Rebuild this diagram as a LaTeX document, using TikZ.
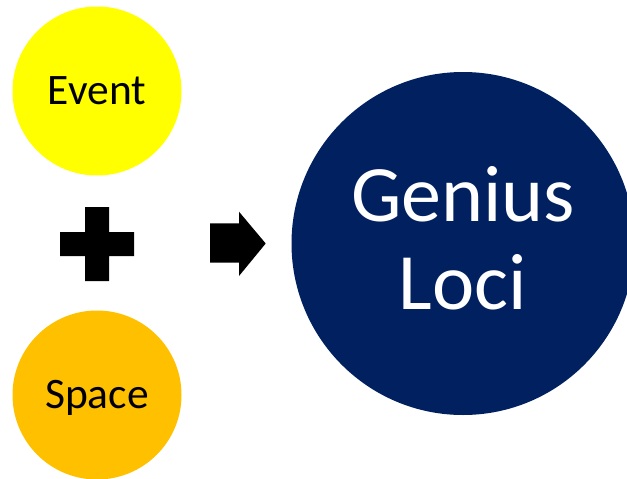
\documentclass[tikz,border=0pt]{standalone}
\usepackage{fontspec}
\setmainfont{Carlito}
\definecolor{evyellow}{HTML}{FFFF00}
\definecolor{sporange}{HTML}{FFC000}
\definecolor{glnavy}{HTML}{002060}
\begin{document}
\begin{tikzpicture}[x=1pt,y=-1pt,
  bubble/.style={circle,inner sep=0pt,draw=none},
  small/.style={bubble,minimum size=169pt,text=black,
    font=\fontsize{43.5}{52}\selectfont,text height=27.5pt,text depth=0pt},
  symbol/.style={fill=black}]
\useasboundingbox (0,0) rectangle (627,479);
\begin{scope}
\clip (0,0) rectangle (627,479);
\node[small,fill=evyellow] (event) at (97,91) {Event};
\node[small,fill=sporange] (space) at (97,395) {Space};
\node[bubble,fill=glnavy,minimum size=343pt] (gl) at (463,243.5) {};
\end{scope}
\node[text=white,align=center,font=\fontsize{80}{88}\selectfont] (gltext) at (463,238) {Genius\\Loci};
% plus sign
\coordinate (pc) at (97,244);
\fill[symbol] ([xshift=-12pt,yshift=37pt]pc) -- ([xshift=12pt,yshift=37pt]pc)
  -- ([xshift=12pt,yshift=12pt]pc) -- ([xshift=37pt,yshift=12pt]pc)
  -- ([xshift=37pt,yshift=-12pt]pc) -- ([xshift=12pt,yshift=-12pt]pc)
  -- ([xshift=12pt,yshift=-37pt]pc) -- ([xshift=-12pt,yshift=-37pt]pc)
  -- ([xshift=-12pt,yshift=-12pt]pc) -- ([xshift=-37pt,yshift=-12pt]pc)
  -- ([xshift=-37pt,yshift=12pt]pc) -- ([xshift=-12pt,yshift=12pt]pc) -- cycle;
% block arrow
\fill[symbol] (210,223.3) -- (239,223.3) -- (239,211.7) -- (265.7,243.5)
  -- (239,276) -- (239,262.7) -- (210,262.7) -- cycle;
\end{tikzpicture}
\end{document}
